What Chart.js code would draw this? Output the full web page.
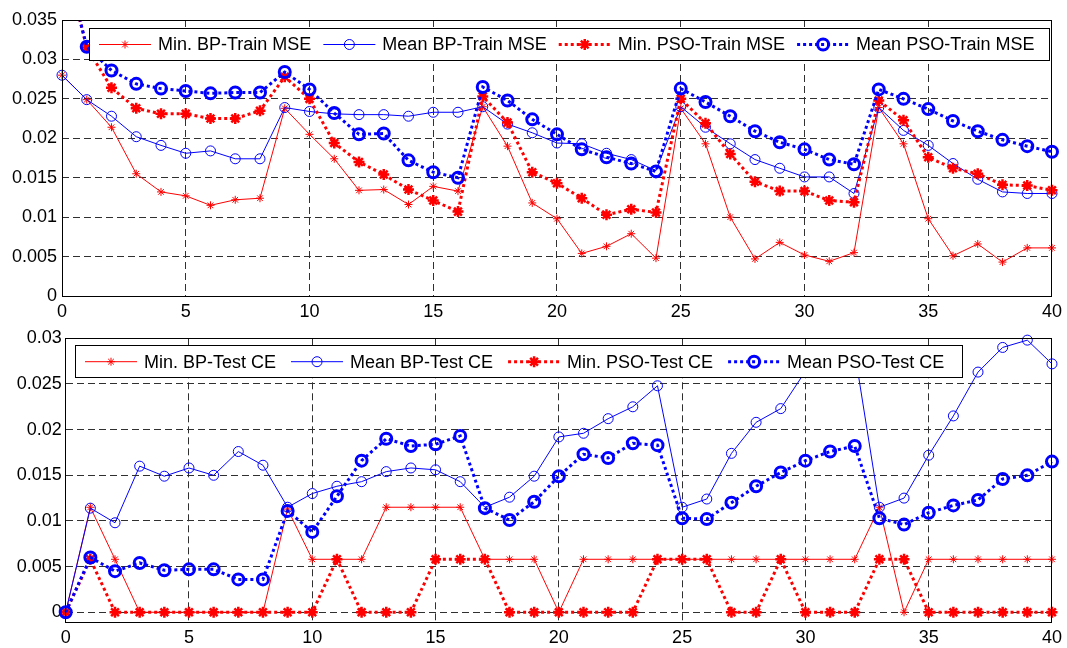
<!DOCTYPE html>
<html>
<head>
<meta charset="utf-8">
<title>BP vs PSO training</title>
<script src="https://cdn.jsdelivr.net/npm/chart.js@4.4.1/dist/chart.umd.min.js"></script>
<style>
  html, body { margin: 0; padding: 0; background: #fff; }
  canvas { position: absolute; left: 0; }
  #trainChart { top: 0; }
  #testChart { top: 322px; }
</style>
</head>
<body>
<canvas id="trainChart" width="1067" height="322"></canvas>
<canvas id="testChart" width="1067" height="326"></canvas>
<script>
// x axis: iterations 0..40
const epochs = [0, 1, 2, 3, 4, 5, 6, 7, 8, 9, 10, 11, 12, 13, 14, 15, 16, 17, 18, 19, 20,
  21, 22, 23, 24, 25, 26, 27, 28, 29, 30, 31, 32, 33, 34, 35, 36, 37, 38, 39, 40];
const xTickValues = [0, 5, 10, 15, 20, 25, 30, 35, 40];
const xTickLabels = ['0', '5', '10', '15', '20', '25', '30', '35', '40'];

const trainTickValues = [0, 0.005, 0.01, 0.015, 0.02, 0.025, 0.03, 0.035];
const trainTickLabels = ['0', '0.005', '0.01', '0.015', '0.02', '0.025', '0.03', '0.035'];
const testTickValues = [0, 0.005, 0.01, 0.015, 0.02, 0.025, 0.03];
const testTickLabels = ['0', '0.005', '0.01', '0.015', '0.02', '0.025', '0.03'];

const trainNames = ['Min. BP-Train MSE', 'Mean BP-Train MSE', 'Min. PSO-Train MSE', 'Mean PSO-Train MSE'];
const testNames = ['Min. BP-Test CE', 'Mean BP-Test CE', 'Min. PSO-Test CE', 'Mean PSO-Test CE'];

// top panel: training MSE
const minBpTrain = [0.0280, 0.0249, 0.0214, 0.0155, 0.0132, 0.0127, 0.0115, 0.0122, 0.0124, 0.0238,
  0.0205, 0.0174, 0.0134, 0.0135, 0.0116, 0.0139, 0.0133, 0.0240, 0.0190, 0.0118,
  0.0098, 0.0054, 0.0063, 0.0079, 0.0048, 0.0238, 0.0193, 0.0100, 0.0047, 0.0068,
  0.0052, 0.0044, 0.0055, 0.0239, 0.0193, 0.0098, 0.0051, 0.0066, 0.0043, 0.0061, 0.0061];
const meanBpTrain = [0.0280, 0.0249, 0.0228, 0.0202, 0.0191, 0.0181, 0.0184, 0.0174, 0.0174, 0.0239,
  0.0234, 0.0231, 0.0230, 0.0230, 0.0228, 0.0233, 0.0233, 0.0240, 0.0218, 0.0207,
  0.0194, 0.0193, 0.0181, 0.0173, 0.0159, 0.0240, 0.0214, 0.0193, 0.0173, 0.0162,
  0.0151, 0.0151, 0.0130, 0.0239, 0.0210, 0.0191, 0.0168, 0.0148, 0.0132, 0.0130, 0.0130];
const minPsoTrain = [0.0440, 0.0315, 0.0264, 0.0238, 0.0231, 0.0231, 0.0225, 0.0225, 0.0235, 0.0278,
  0.0250, 0.0194, 0.0170, 0.0154, 0.0135, 0.0121, 0.0107, 0.0253, 0.0220, 0.0157,
  0.0143, 0.0124, 0.0103, 0.0110, 0.0106, 0.0250, 0.0219, 0.0180, 0.0145, 0.0133,
  0.0133, 0.0121, 0.0119, 0.0248, 0.0223, 0.0176, 0.0162, 0.0155, 0.0141, 0.0140, 0.0134];
const meanPsoTrain = [0.0440, 0.0316, 0.0286, 0.0269, 0.0263, 0.0260, 0.0257, 0.0258, 0.0258, 0.0284,
  0.0262, 0.0232, 0.0205, 0.0206, 0.0172, 0.0157, 0.0150, 0.0265, 0.0248, 0.0224,
  0.0205, 0.0186, 0.0176, 0.0168, 0.0158, 0.0263, 0.0246, 0.0228, 0.0209, 0.0195,
  0.0186, 0.0173, 0.0167, 0.0262, 0.0250, 0.0237, 0.0222, 0.0209, 0.0198, 0.0190, 0.0183];

// bottom panel: test CE
const minBpTest = [0, 0.0115, 0.0058, 0, 0, 0, 0, 0, 0, 0.0113,
  0.0058, 0.0058, 0.0058, 0.0115, 0.0115, 0.0115, 0.0115, 0.0058, 0.0058, 0.0058,
  0, 0.0058, 0.0058, 0.0058, 0.0058, 0.0058, 0.0058, 0.0058, 0.0058, 0.0058,
  0.0058, 0.0058, 0.0058, 0.0115, 0, 0.0058, 0.0058, 0.0058, 0.0058, 0.0058, 0.0058];
const meanBpTest = [0, 0.0114, 0.0098, 0.0160, 0.0149, 0.0158, 0.0150, 0.0176, 0.0161, 0.0115,
  0.0130, 0.0138, 0.0143, 0.0154, 0.0158, 0.0156, 0.0143, 0.0115, 0.0126, 0.0149,
  0.0192, 0.0196, 0.0212, 0.0225, 0.0248, 0.0115, 0.0124, 0.0174, 0.0208, 0.0223,
  0.0264, 0.0276, 0.0285, 0.0115, 0.0125, 0.0172, 0.0215, 0.0263, 0.0290, 0.0298, 0.0272];
const minPsoTest = [0, 0.0058, 0, 0, 0, 0, 0, 0, 0, 0,
  0, 0.0058, 0, 0, 0, 0.0058, 0.0058, 0.0058, 0, 0,
  0, 0, 0, 0, 0.0058, 0.0058, 0.0058, 0, 0, 0.0058,
  0, 0, 0, 0.0058, 0.0058, 0, 0, 0, 0, 0, 0];
const meanPsoTest = [0, 0.0060, 0.0045, 0.0054, 0.0046, 0.0047, 0.0047, 0.0036, 0.0036, 0.0111,
  0.0088, 0.0127, 0.0166, 0.0190, 0.0182, 0.0184, 0.0193, 0.0114, 0.0101, 0.0121,
  0.0149, 0.0173, 0.0169, 0.0185, 0.0183, 0.0103, 0.0102, 0.0120, 0.0138, 0.0153,
  0.0166, 0.0176, 0.0182, 0.0103, 0.0096, 0.0109, 0.0117, 0.0123, 0.0146, 0.0150, 0.0165];

Chart.defaults.font.family = '"Liberation Sans", Arial, sans-serif';
Chart.defaults.font.size = 18;
Chart.defaults.color = '#000';

const RED = '#ff0000';
const BLUE = '#0000ff';
const NONE = 'rgba(0,0,0,0)';

function buildDatasets(names, minBp, meanBp, minPso, meanPso) {
  return [
    { label: names[0], data: minBp, borderColor: RED, borderWidth: 1,
      pointStyle: 'star', pointRadius: 4, pointBorderWidth: 1,
      pointBorderColor: RED, pointBackgroundColor: RED, order: 4 },
    { label: names[1], data: meanBp, borderColor: BLUE, borderWidth: 1,
      pointStyle: 'circle', pointRadius: 5, pointBorderWidth: 1,
      pointBorderColor: BLUE, pointBackgroundColor: NONE, order: 3 },
    { label: names[2], data: minPso, borderColor: RED, borderWidth: 3, borderDash: [3, 3],
      pointStyle: 'star', pointRadius: 5.5, pointBorderWidth: 2.5,
      pointBorderColor: RED, pointBackgroundColor: RED, order: 2 },
    { label: names[3], data: meanPso, borderColor: BLUE, borderWidth: 3, borderDash: [3, 3],
      pointStyle: 'circle', pointRadius: 5.5, pointBorderWidth: 3,
      pointBorderColor: BLUE, pointBackgroundColor: NONE, order: 1 },
  ];
}

// legend box drawn over the lines (MATLAB style), then the axes frame
const matlabBox = {
  id: 'matlabBox',
  afterDatasetsDraw(chart, args, opts) {
    const { ctx, chartArea } = chart;
    const align = (p) => Math.round(p - 0.5) + 0.5;
    const left = chartArea.left + opts.left;
    const top = chartArea.top + opts.top;
    const mid = top + opts.height / 2;

    ctx.save();
    ctx.fillStyle = '#fff';
    ctx.fillRect(left, top, opts.width, opts.height);
    ctx.strokeStyle = '#000';
    ctx.lineWidth = 1;
    ctx.strokeRect(align(left), align(top), Math.round(opts.width), Math.round(opts.height));

    ctx.font = '18px "Liberation Sans", Arial, sans-serif';
    ctx.textBaseline = 'middle';
    let x = left + 10;
    chart.data.datasets.forEach((ds) => {
      ctx.strokeStyle = ds.borderColor;
      ctx.lineWidth = ds.borderWidth;
      ctx.setLineDash(ds.borderDash || []);
      ctx.beginPath();
      ctx.moveTo(x, mid);
      ctx.lineTo(x + 52, mid);
      ctx.stroke();
      ctx.setLineDash([]);
      ctx.lineWidth = ds.pointBorderWidth;
      ctx.fillStyle = ds.pointBackgroundColor;
      Chart.helpers.drawPoint(ctx, {
        pointStyle: ds.pointStyle, radius: ds.pointRadius,
        borderWidth: ds.pointBorderWidth, rotation: 0,
      }, x + 26, mid);
      ctx.fillStyle = '#000';
      ctx.fillText(ds.label, x + 59, mid + 1);
      x += 59 + ctx.measureText(ds.label).width + opts.gap;
    });

    ctx.strokeStyle = '#000';
    ctx.lineWidth = 1;
    const l = align(chartArea.left), t = align(chartArea.top);
    ctx.strokeRect(l, t, align(chartArea.right) - l, align(chartArea.bottom) - t);
    ctx.restore();
  },
};

function makeChart(id, datasets, cfg) {
  const ctx = document.getElementById(id).getContext('2d');
  return new Chart(ctx, {
    type: 'line',
    data: { labels: epochs, datasets },
    options: {
      responsive: false,
      animation: false,
      events: [],
      layout: { padding: cfg.padding },
      elements: { line: { tension: 0, fill: false } },
      datasets: { line: { clip: cfg.clip } },
      scales: {
        x: {
          type: 'linear', min: 0, max: 40,
          afterBuildTicks: (s) => { s.ticks = xTickValues.map((value) => ({ value })); },
          afterFit: (s) => { s.height = cfg.xHeight; },
          ticks: { autoSkip: false, maxRotation: 0, padding: 5,
            callback: (v, i) => xTickLabels[i] },
          grid: { color: '#303030', lineWidth: 1, drawTicks: false },
          border: { display: false, dash: [7, 4] },
        },
        y: {
          min: cfg.yMin, max: cfg.yMax,
          afterBuildTicks: (s) => { s.ticks = cfg.yTicks.map((value) => ({ value })); },
          afterFit: (s) => { s.width = cfg.yWidth; },
          ticks: { autoSkip: false, padding: cfg.yPad,
            callback: (v, i) => cfg.yLabels[i] },
          grid: { color: '#303030', lineWidth: 1, drawTicks: false },
          border: { display: false, dash: [7, 4] },
        },
      },
      plugins: {
        legend: { display: false },
        tooltip: { enabled: false },
        matlabBox: cfg.box,
      },
    },
    plugins: [matlabBox],
  });
}

makeChart('trainChart', buildDatasets(trainNames, minBpTrain, meanBpTrain, minPsoTrain, meanPsoTrain), {
  padding: { top: 20, right: 10.5, bottom: 0, left: 0 },
  xHeight: 26, yWidth: 62, yPad: 5,
  yMin: 0, yMax: 0.035, yTicks: trainTickValues, yLabels: trainTickLabels,
  clip: { left: 8, right: 8, top: 0, bottom: 8 },
  box: { left: 27, top: 8.3, width: 960, height: 32.4, gap: 12 },
});

makeChart('testChart', buildDatasets(testNames, minBpTest, meanBpTest, minPsoTest, meanPsoTest), {
  padding: { top: 16.3, right: 11.3, bottom: 0, left: 0 },
  xHeight: 25.7, yWidth: 65.7, yPad: 4,
  yMin: -0.0011, yMax: 0.03, yTicks: testTickValues, yLabels: testTickLabels,
  clip: { left: 8, right: 8, top: 8, bottom: 8 },
  box: { left: 9.3, top: 7.4, width: 887, height: 32, gap: 15 },
});
</script>
</body>
</html>
